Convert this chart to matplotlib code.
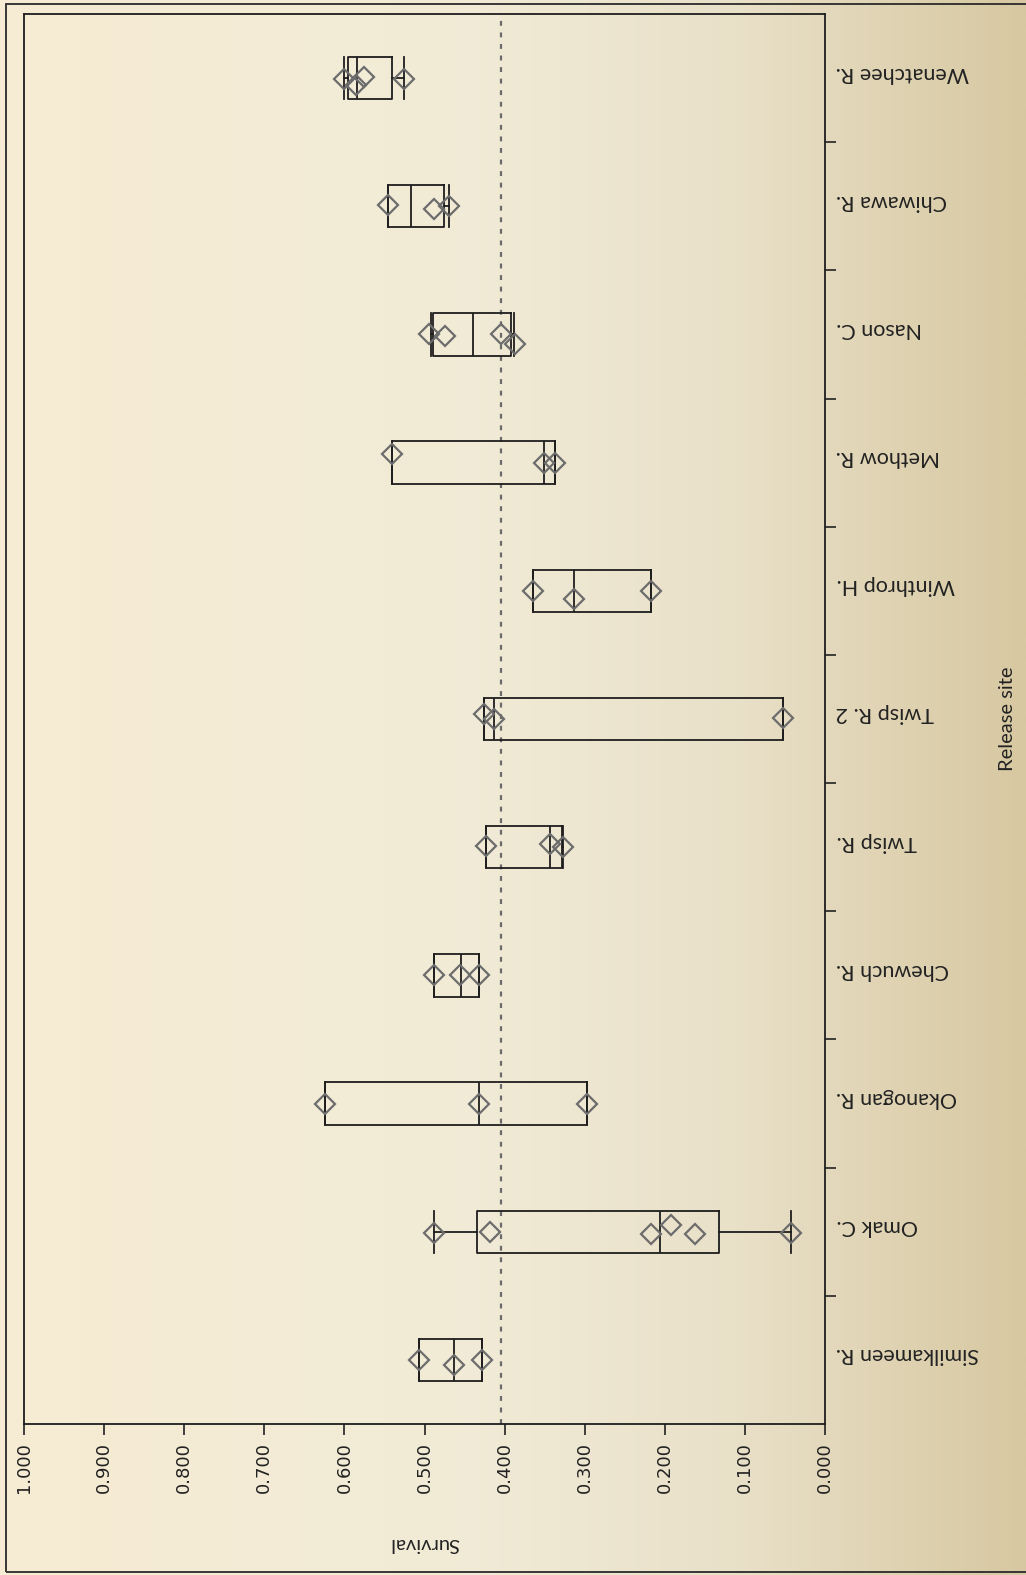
import numpy as np
import matplotlib
matplotlib.use("Agg")
import matplotlib.pyplot as plt
from matplotlib.colors import LinearSegmentedColormap
from matplotlib.patches import Rectangle
from matplotlib.transforms import ScaledTranslation

# ---------------- data ----------------
sites = ["Wenatchee R.", "Chiwawa R.", "Nason C.", "Methow R.", "Winthrop H.",
         "Twisp R. 2", "Twisp R.", "Chewuch R.", "Okanogan R.", "Omak C.",
         "Similkameen R."]
whislo = [0.526, 0.470, 0.388, 0.337, 0.217, 0.052, 0.327, 0.432, 0.297, 0.042, 0.428]
q1     = [0.540, 0.476, 0.392, 0.337, 0.217, 0.052, 0.328, 0.432, 0.297, 0.132, 0.428]
med    = [0.584, 0.517, 0.439, 0.351, 0.313, 0.413, 0.343, 0.455, 0.432, 0.206, 0.463]
q3     = [0.596, 0.546, 0.489, 0.541, 0.365, 0.426, 0.423, 0.488, 0.624, 0.435, 0.507]
whishi = [0.600, 0.546, 0.492, 0.541, 0.365, 0.426, 0.423, 0.488, 0.624, 0.488, 0.507]
points = [
    [0.601, 0.576, 0.586, 0.525],
    [0.546, 0.488, 0.469],
    [0.494, 0.475, 0.404, 0.387],
    [0.541, 0.351, 0.337],
    [0.365, 0.313, 0.217],
    [0.426, 0.413, 0.052],
    [0.423, 0.343, 0.327],
    [0.488, 0.456, 0.432],
    [0.624, 0.432, 0.297],
    [0.488, 0.418, 0.217, 0.192, 0.162, 0.042],
    [0.507, 0.463, 0.428],
]
jitter = [
    [0.01, -0.01, 0.055, 0.01],
    [-0.01, 0.02, 0.0],
    [0.0, 0.015, 0.0, 0.075],
    [-0.07, 0.0, 0.0],
    [0.0, 0.06, 0.0],
    [-0.04, 0.0, -0.01],
    [-0.01, -0.025, 0.0],
    [0.0, 0.0, 0.0],
    [0.0, 0.0, 0.0],
    [0.01, 0.0, 0.02, -0.05, 0.02, 0.01],
    [0.0, 0.04, 0.0],
]
ref_value = 0.405
xticks = [0.0, 0.1, 0.2, 0.3, 0.4, 0.5, 0.6, 0.7, 0.8, 0.9, 1.0]

# ---------------- figure ----------------
W, H = 1026, 1575
fig = plt.figure(figsize=(W / 100, H / 100), dpi=100)

# gradient background
bg = fig.add_axes([0, 0, 1, 1], zorder=-10)
cmap = LinearSegmentedColormap.from_list(
    "bg", [(0.0, "#f7ecd3"), (0.45, "#f1ebd7"), (0.72, "#e9e0c8"), (1.0, "#d7c8a1")])
grad = np.linspace(0, 1, 512)[None, :]
bg.imshow(grad, aspect="auto", cmap=cmap, extent=[0, 1, 0, 1])
bg.set_axis_off()
bg.add_patch(Rectangle((6 / W, 3 / H), 1.2, 1 - 7 / H, transform=bg.transAxes,
                       fill=False, edgecolor="#2a2a2a", lw=1.3, clip_on=False))

ax = fig.add_axes([24 / W, 1 - 1424 / H, (825 - 24) / W, (1424 - 14) / H])
ax.patch.set_alpha(0)

n = len(sites)
pos = np.arange(n)
stats = []
for i in range(n):
    stats.append(dict(whislo=whislo[i], q1=q1[i], med=med[i], q3=q3[i],
                      whishi=whishi[i], fliers=[], label=sites[i]))
lp = dict(color="#1e1e1e", lw=1.3)
ax.bxp(stats, positions=pos, widths=0.33, capwidths=0.33, vert=False,
       showfliers=False, boxprops=lp, whiskerprops=lp, capprops=lp,
       medianprops=dict(color="#1e1e1e", lw=1.3), manage_ticks=False)

for i in range(n):
    ys = [pos[i] + j for j in jitter[i]]
    ax.plot(points[i], ys, linestyle="none", marker="D", markersize=10.5,
            markerfacecolor="none", markeredgecolor="#6c6c6c", markeredgewidth=1.6,
            zorder=4)

ax.axvline(ref_value, color="#6a6a6a", lw=1.6, linestyle=(0, (2.2, 3.0)), zorder=1)

ax.set_xlim(1.0, 0.0)
ax.set_ylim(n - 0.5, -0.5)

ax.set_xticks(xticks)
ax.set_xticklabels([f"{v:.3f}" for v in xticks], rotation=90, fontsize=13,
                   family="DejaVu Sans", color="#222222")
ax.tick_params(axis="x", direction="out", length=8, width=1.2, pad=5, color="#222222")

# y axis on the right: ticks at boundaries, labels at centers
ax.yaxis.tick_right()
ax.set_yticks(np.arange(n - 1) + 0.5)
ax.set_yticklabels([])
ax.set_yticks(pos, minor=True)
ax.set_yticklabels(sites, minor=True, rotation=180, fontsize=15.5, family="Lato",
                   color="#222222", va="center", ha="left")
ax.tick_params(axis="y", which="major", direction="out", length=8, width=1.2, color="#222222")
ax.tick_params(axis="y", which="minor", length=0, pad=8)
shift = ScaledTranslation(0, 4 / 72, fig.dpi_scale_trans)
for lbl in ax.get_yticklabels(minor=True):
    lbl.set_transform(lbl.get_transform() + shift)

ax.yaxis.set_label_position("right")
ax.set_ylabel("Release site", rotation=90, fontsize=14.5, family="Lato",
              color="#222222", labelpad=14)
ax.set_xlabel("Survival", rotation=180, fontsize=14.5, family="Lato",
              color="#222222", labelpad=30)

for s in ax.spines.values():
    s.set_linewidth(1.3)
    s.set_color("#1e1e1e")

fig.savefig("out.png", dpi=100)
